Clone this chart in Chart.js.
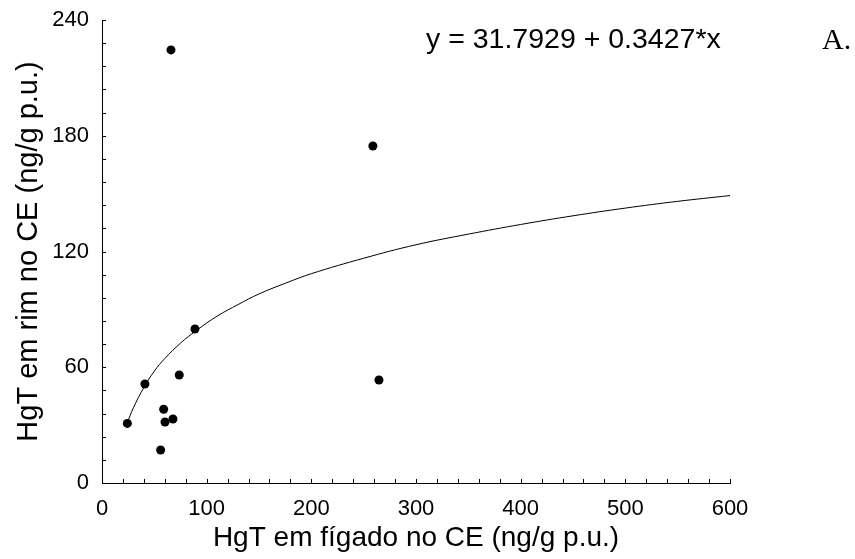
<!DOCTYPE html>
<html>
<head>
<meta charset="utf-8">
<script src="https://cdn.jsdelivr.net/npm/chart.js@4.4.0/dist/chart.umd.min.js"></script>
<style>
    html, body { margin: 0; padding: 0; background: #fff; }
    #wrap { width: 855px; height: 559px; position: relative; }
</style>
</head>
<body>
<div id="wrap"><canvas id="grafico"></canvas></div>
<script>
// ── Dados ──
const figadoX = [24.2, 41, 56, 58.9, 60.2, 65.9, 67.8, 73.8, 88.8, 258.8, 264.6];
const rimY    = [30.9, 51.3, 17.1, 38.2, 31.6, 224.5, 33.2, 56, 79.8, 174.7, 53.4];

const curvaX = [24, 30, 40, 50, 60, 75, 90, 110, 130, 150, 175, 200, 250, 300, 350, 400, 450, 500, 550, 600];
const curvaY = [31, 39, 49.5, 58, 64.5, 72.5, 79, 86.5, 92.5, 98, 103.5, 108.5, 116.5, 123.5, 129, 134, 138.5, 142.5, 146, 149];

const ticksX = [0, 100, 200, 300, 400, 500, 600];
const ticksY = [0, 60, 120, 180, 240];

const equacao = 'y = 31.7929 + 0.3427*x';
const rotulo  = 'A.';

const FONTE = "Arial, 'Liberation Sans', sans-serif";

// ── Marcas internas dos eixos + textos ──
const marcasInternas = {
    id: 'marcasInternas',
    afterDraw(chart) {
        const { ctx, chartArea, scales } = chart;
        ctx.save();
        ctx.strokeStyle = '#000';
        ctx.lineWidth = 1;
        ctx.beginPath();
        for (let v = 0; v <= 600; v += 20) {
            const px = Math.round(scales.x.getPixelForValue(v)) + 0.5;
            ctx.moveTo(px, chartArea.bottom);
            ctx.lineTo(px, chartArea.bottom - 4);
        }
        for (let v = 0; v <= 240; v += 12) {
            const py = Math.round(scales.y.getPixelForValue(v)) + 0.5;
            ctx.moveTo(chartArea.left, py);
            ctx.lineTo(chartArea.left + 4, py);
        }
        ctx.stroke();

        ctx.fillStyle = '#000';
        ctx.textBaseline = 'middle';
        ctx.font = `28.5px ${FONTE}`;
        ctx.fillText(equacao, 426, 40);
        ctx.font = "30px 'Times New Roman', 'Liberation Serif', serif";
        ctx.fillText(rotulo, 822, 41);
        ctx.restore();
    }
};

new Chart(document.getElementById('grafico'), {
    type: 'scatter',
    data: {
        datasets: [
            {
                label: 'curva',
                data: curvaX.map((x, i) => ({ x, y: curvaY[i] })),
                showLine: true,
                borderColor: '#000',
                borderWidth: 1,
                pointRadius: 0,
                tension: 0.4,
                fill: false,
            },
            {
                label: 'amostras',
                data: figadoX.map((x, i) => ({ x, y: rimY[i] })),
                backgroundColor: '#000',
                borderWidth: 0,
                pointRadius: 4.5,
            }
        ]
    },
    options: {
        responsive: true,
        maintainAspectRatio: false,
        animation: false,
        layout: { padding: { top: 20, right: 125, left: 0, bottom: 0 } },
        plugins: {
            legend: { display: false },
            tooltip: { enabled: false }
        },
        scales: {
            x: {
                type: 'linear',
                min: 0,
                max: 600,
                afterFit(s) { s.height = 76; s.paddingLeft = 0; s.paddingRight = 0; },
                afterBuildTicks(s) { s.ticks = ticksX.map(v => ({ value: v })); },
                grid: { display: false, drawTicks: false },
                border: { display: true, color: '#000', width: 1 },
                ticks: { color: '#000', font: { family: FONTE, size: 22 }, padding: 13 },
                title: {
                    display: true,
                    text: 'HgT em fígado no CE (ng/g p.u.)',
                    color: '#000',
                    font: { family: FONTE, size: 28 },
                    padding: { top: 0, bottom: 4 }
                }
            },
            y: {
                type: 'linear',
                min: 0,
                max: 240,
                afterFit(s) { s.width = 102; s.paddingTop = 0; s.paddingBottom = 0; },
                afterBuildTicks(s) { s.ticks = ticksY.map(v => ({ value: v })); },
                grid: { display: false, drawTicks: false },
                border: { display: true, color: '#000', width: 1 },
                ticks: { color: '#000', font: { family: FONTE, size: 22 }, padding: 13 },
                title: {
                    display: true,
                    text: 'HgT em rim no CE (ng/g p.u.)',
                    color: '#000',
                    font: { family: FONTE, size: 29 },
                    padding: { top: 12, bottom: 0 }
                }
            }
        }
    },
    plugins: [marcasInternas]
});
</script>
</body>
</html>
